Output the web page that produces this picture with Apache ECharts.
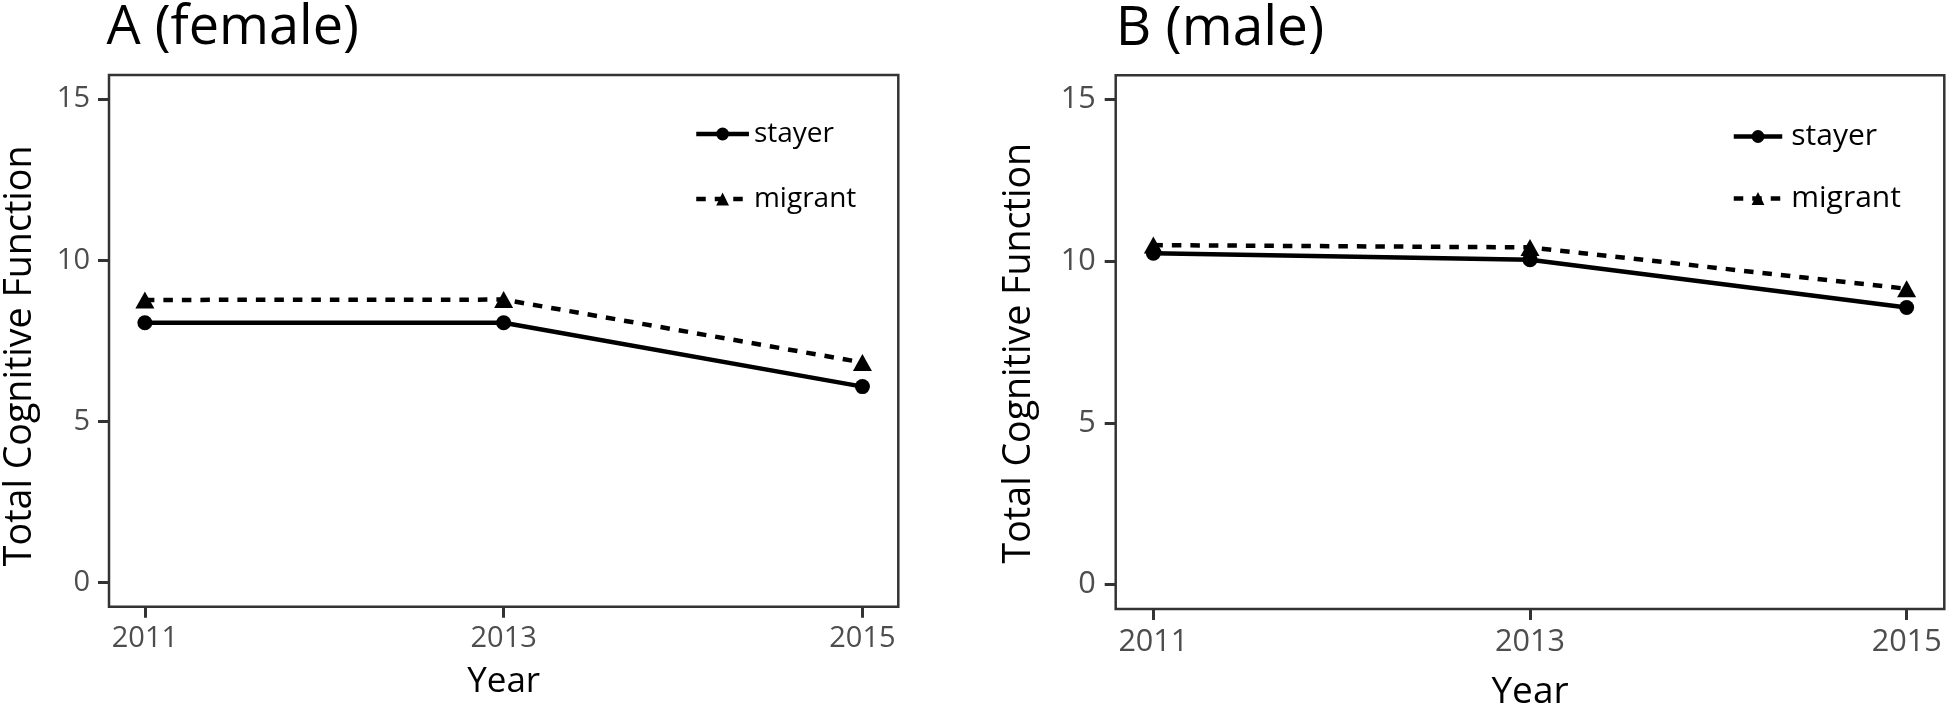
<!DOCTYPE html>
<html>
<head>
<meta charset="utf-8">
<script src="https://cdn.jsdelivr.net/npm/echarts@6/dist/echarts.min.js"></script>
<style>
html,body{margin:0;padding:0;background:#fff;}
#chart{width:1946px;height:716px;}
</style>
</head>
<body>
<div id="chart"></div>
<script>
const years = [2011, 2013, 2015];
const xTicks = [2011, 2013, 2015];
const yTicks = [0, 5, 10, 15];
const femaleStayer = [8.06, 8.06, 6.08];
const femaleMigrant = [8.77, 8.78, 6.83];
const maleStayer = [10.25, 10.05, 8.57];
const maleMigrant = [10.50, 10.43, 9.15];
const panelTitles = ['A (female)', 'B (male)'];
const seriesNames = ['stayer', 'migrant'];
const xTitle = 'Year';
const yTitle = 'Total Cognitive Function';

const FONT = '"Open Sans", sans-serif';
const pts = vals => years.map((y, i) => [y, vals[i]]);

const grids = [
  {left: 106.5, top: 75, width: 791.8, height: 531.7, fs: 29, xNameFs: 35, yNameFs: 37.6, titleFs: 54,
   xGap: 58, yGap: 70, yShift: 30, xMargin: 18, yMargin: 19, legFs: 28},
  {left: 1115.7, top: 75.3, width: 828.6, height: 544, fs: 30.6, xNameFs: 37, yNameFs: 37.6, titleFs: 55,
   xGap: 65, yGap: 77, yShift: 22, xMargin: 18, yMargin: 20, legFs: 30}
];
const legendPos = [
  {left: 694, top: 120, itemWidth: 52.7, itemGap: 37, textPad: 0},
  {left: 1731.5, top: 121.5, itemWidth: 48.5, itemGap: 32, textPad: 4}
];

function xAxis(i) {
  const g = grids[i];
  return {
    type: 'value', gridIndex: i, min: 2010.8, max: 2015.2,
    name: xTitle, nameLocation: 'middle', nameGap: g.xGap,
    nameTextStyle: {fontFamily: FONT, fontSize: g.xNameFs, color: '#000'},
    axisLine: {show: false, onZero: false},
    splitLine: {show: false},
    axisTick: {show: true, customValues: xTicks, length: 11, lineStyle: {color: '#333', width: 3}},
    axisLabel: {customValues: xTicks, margin: g.xMargin, fontFamily: FONT, fontSize: g.fs, color: '#4D4D4D',
      formatter: v => String(v)}
  };
}
function yAxis(i) {
  const g = grids[i];
  return {
    type: 'value', gridIndex: i, min: -0.75, max: 15.75,
    name: yTitle, nameLocation: 'middle', nameGap: g.yGap,
    nameTextStyle: {fontFamily: FONT, fontSize: g.yNameFs, color: '#000', padding: [0, g.yShift, 0, 0]},
    axisLine: {show: false, onZero: false},
    splitLine: {show: false},
    axisTick: {show: true, customValues: yTicks, length: 11, lineStyle: {color: '#333', width: 3}},
    axisLabel: {customValues: yTicks, margin: g.yMargin, fontFamily: FONT, fontSize: g.fs, color: '#4D4D4D'}
  };
}
function mkSeries(i, name, vals, dashed) {
  return {
    type: 'line', name: name, xAxisIndex: i, yAxisIndex: i,
    data: pts(vals),
    symbol: dashed ? 'triangle' : 'circle',
    symbolSize: dashed ? [19, 17] : 15,
    showSymbol: true,
    itemStyle: {color: '#000'},
    lineStyle: {color: '#000', width: 4.5, type: dashed ? [9.5, 9] : 'solid'},
    animation: false,
    z: dashed ? 3 : 2
  };
}

const chart = echarts.init(document.getElementById('chart'));
chart.setOption({
  animation: false,
  backgroundColor: '#fff',
  title: panelTitles.map((t, i) => ({
    text: t, left: grids[i].left, top: 2, padding: 0,
    textStyle: {fontFamily: FONT, fontSize: grids[i].titleFs, fontWeight: 'normal', color: '#000'}
  })),
  grid: grids.map(g => ({left: g.left, top: g.top, width: g.width, height: g.height,
    show: true, borderColor: '#333', borderWidth: 2.5, backgroundColor: 'transparent', containLabel: false})),
  xAxis: [xAxis(0), xAxis(1)],
  yAxis: [yAxis(0), yAxis(1)],
  legend: legendPos.map((p, i) => ({
    data: seriesNames, orient: 'vertical', left: p.left, top: p.top, padding: 0,
    itemWidth: p.itemWidth, itemHeight: 16, itemGap: p.itemGap,
    selectedMode: false,
    lineStyle: {width: 4.5},
    textStyle: {fontFamily: FONT, fontSize: grids[i].legFs, color: '#000', padding: [0, 0, 0, p.textPad]}
  })),
  series: [
    mkSeries(0, 'stayer', femaleStayer, false),
    mkSeries(0, 'migrant', femaleMigrant, true),
    mkSeries(1, 'stayer', maleStayer, false),
    mkSeries(1, 'migrant', maleMigrant, true)
  ]
});
</script>
</body>
</html>
